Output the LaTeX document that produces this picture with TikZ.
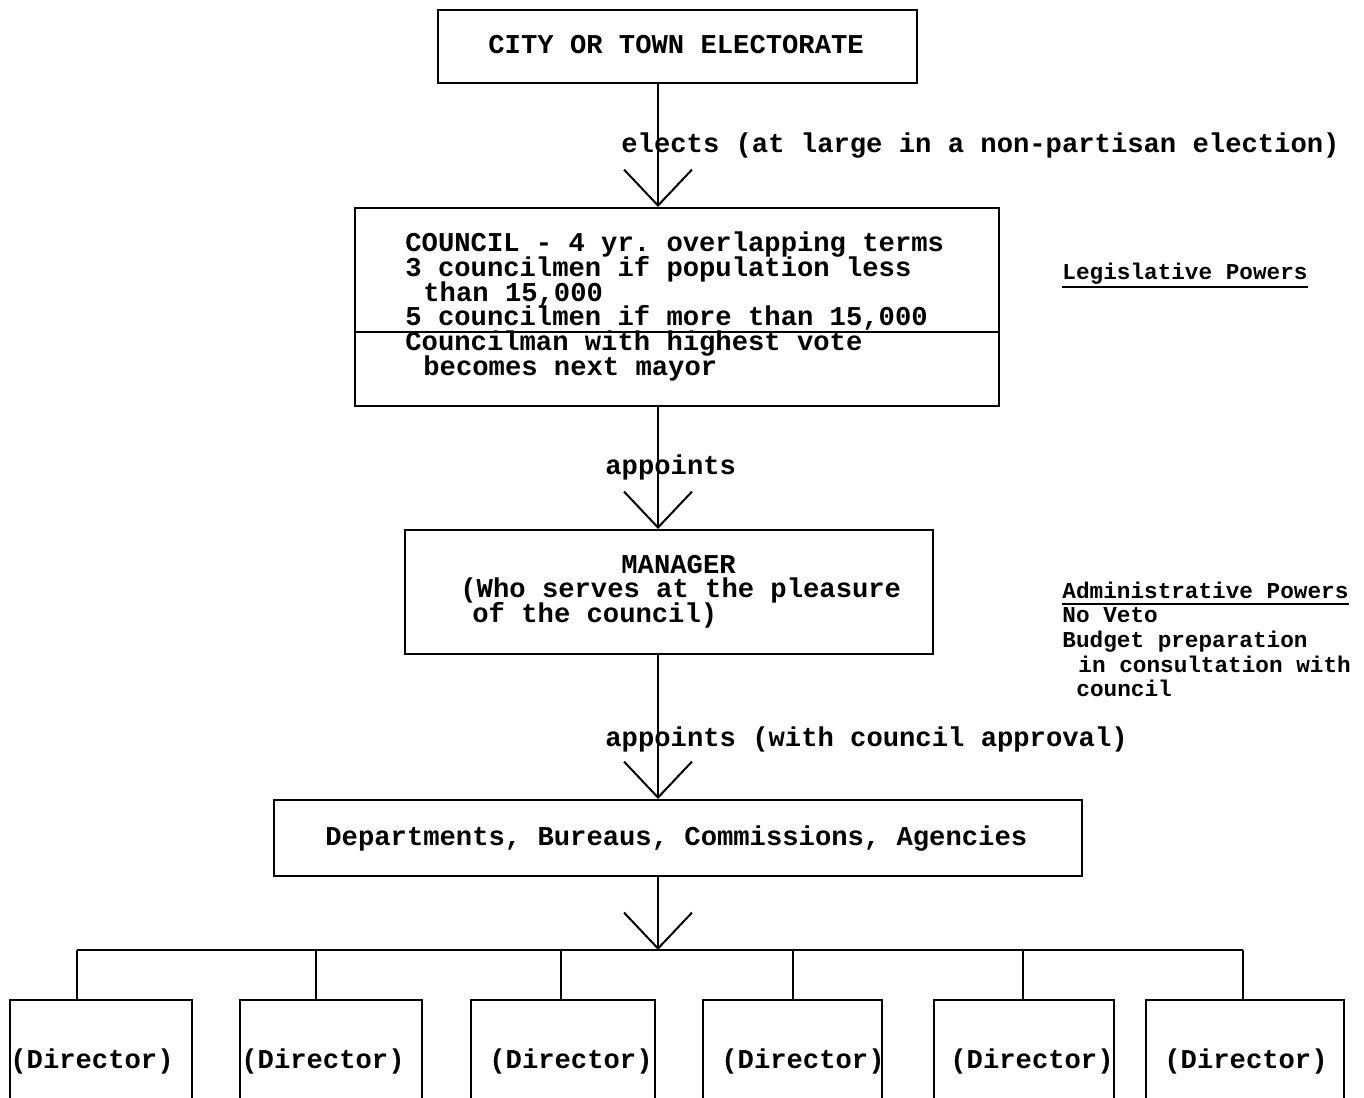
\documentclass[tikz,border=0pt]{standalone}
\usepackage{fontspec}
\setmonofont{Liberation Mono}
\usetikzlibrary{arrows.meta}

\tikzset{
    box/.style={draw, line width=1pt, inner sep=0pt},
    txt/.style={font=\ttfamily\bfseries\fontsize{13.6}{12.4}\selectfont, inner sep=0pt, anchor=base west},
    side/.style={font=\ttfamily\bfseries\fontsize{11.35}{12.4}\selectfont, inner sep=0pt, anchor=base west},
    link/.style={line width=1pt},
    arr/.style={line width=1pt, -{Straight Barb[length=18pt,width=34pt]}},
}

\begin{document}
\begin{tikzpicture}[x=0.5pt,y=-0.5pt]
    \useasboundingbox (0,0) rectangle (1364,1097);
    \fill[white] (0,0) rectangle (1364,1097);
    \clip (0,0) rectangle (1364,1097);
    % Boxes
    \node[box, minimum width=239.5pt, minimum height=36.5pt] (Electorate) at (677.5,46.5) {};
    \node[txt] (Electorate-text) at (488,54) {CITY OR TOWN ELECTORATE};
    \node[box, minimum width=322pt, minimum height=99pt] (Council) at (677,307) {};
    \draw[link] ([yshift=-12.5pt]Council.west) -- ([yshift=-12.5pt]Council.east);
    \foreach \n/\x/\y/\s in {1/405/251/{COUNCIL - 4 yr. overlapping terms},
                             2/405/276/{3 councilmen if population less},
                             3/423/301/{than 15,000},
                             4/405/325/{5 councilmen if more than 15,000},
                             5/405/350/{Councilman with highest vote},
                             6/423/375/{becomes next mayor}} {
        \node[txt] (Council-\n) at (\x,\y) {\s};
    }
    \node[box, minimum width=264pt, minimum height=62pt] (Manager) at (669,592) {};
    \foreach \n/\x/\y/\s in {1/621/573/{MANAGER},
                             2/460/597/{(Who serves at the pleasure},
                             3/472/622/{of the council)}} {
        \node[txt] (Manager-\n) at (\x,\y) {\s};
    }
    \node[box, minimum width=404pt, minimum height=38pt] (Depts) at (678,838) {};
    \node[txt] (Depts-text) at (325,845) {Departments, Bureaus, Commissions, Agencies};
    % Arrows
    \coordinate (Stem) at (658,0);
    \coordinate (Bus) at (658,950);
    \draw[arr] (Electorate.south -| Stem) -- (Council.north -| Stem);
    \node[txt] (Elects) at (621,152) {elects (at large in a non-partisan election)};
    \draw[arr] (Council.south -| Stem) -- (Manager.north -| Stem);
    \node[txt] (Appoints-1) at (605,474) {appoints};
    \draw[arr] (Manager.south -| Stem) -- (Depts.north -| Stem);
    \node[txt] (Appoints-2) at (605,746) {appoints (with council approval)};
    \draw[arr] (Depts.south -| Stem) -- (Bus);
    % Directors
    \foreach \i/\l/\r/\c/\t in {1/10/192/77/92, 2/240/422/316/323, 3/471/655/561/571,
                                4/703/882/793/803, 5/934/1114/1023/1032, 6/1146/1344/1243/1246} {
        \node[box, minimum width={(\r-\l)*0.5pt}, minimum height=61pt] (Director-\i) at ({(\l+\r)/2},1061) {};
        \node[txt, anchor=base] (Director-text-\i) at (\t,1068) {(Director)};
        \coordinate (Bus-\i) at (\c,950);
        \draw[link] (Bus-\i) -- (Bus-\i |- Director-\i.north);
    }
    \draw[link] (Bus-1) -- (Bus-6);
    % Powers
    \node[side] (Legislative) at (1062,279) {Legislative Powers};
    \draw[link] ([yshift=-4pt]Legislative.base west) -- ([yshift=-4pt]Legislative.base east);
    \node[side] (Administrative) at (1062,598) {Administrative Powers};
    \draw[link] ([yshift=-3pt]Administrative.base west) -- ([yshift=-3pt]Administrative.base east);
    \foreach \n/\x/\y/\s in {1/1062/622/{No Veto},
                             2/1062/647/{Budget preparation},
                             3/1078/672/{in consultation with},
                             4/1076/696/{council}} {
        \node[side] (Admin-\n) at (\x,\y) {\s};
    }
\end{tikzpicture}
\end{document}
